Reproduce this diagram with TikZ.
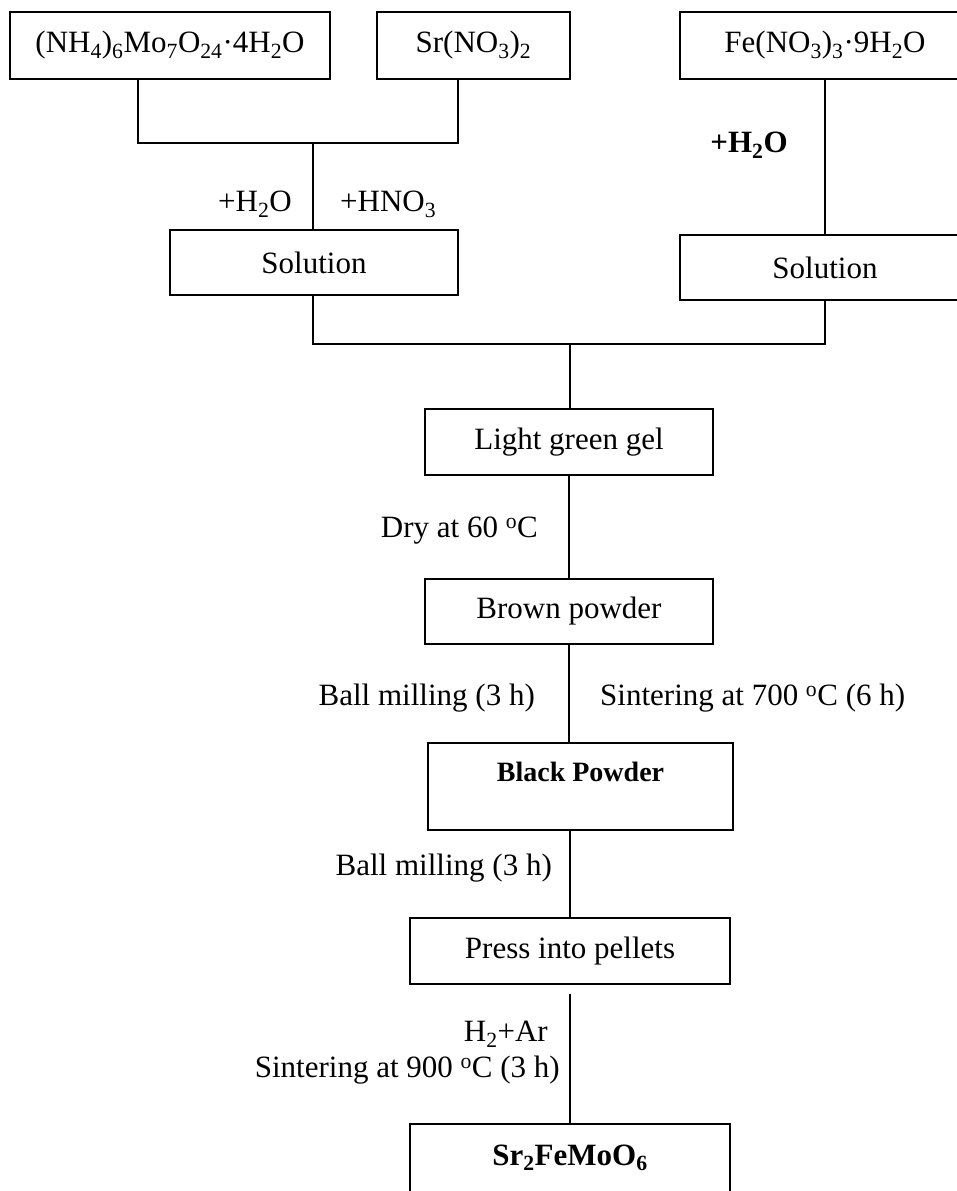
\documentclass[tikz,border=0pt]{standalone}
\usepackage{fontspec}
\setmainfont{Liberation Serif}
\newcommand{\chs}[1]{\textsubscript{#1}}
\newcommand{\degC}{\textsuperscript{o}C}
\begin{document}
\begin{tikzpicture}[x=1pt,y=-1pt,
  box/.style={draw, line width=1.3pt, inner sep=0pt, font=\fontsize{31}{36}\selectfont},
  lbl/.style={inner sep=0pt, font=\fontsize{31}{36}\selectfont},
  conn/.style={line width=1.3pt}]
\useasboundingbox (0,0) rectangle (957,1191);
\clip (0,0) rectangle (957,1191);

% top row
\node[box, minimum width=320pt, minimum height=67pt] (amm) at (170,45.5) {(NH\chs{4})\chs{6}Mo\chs{7}O\chs{24}·4H\chs{2}O};
\node[box, minimum width=193pt, minimum height=67pt] (sr) at (473.5,45.5) {Sr(NO\chs{3})\chs{2}};
\node[box, minimum width=290pt, minimum height=67pt] (fe) at (825,45.5) {Fe(NO\chs{3})\chs{3}·9H\chs{2}O};

% solutions
\node[box, minimum width=288pt, minimum height=65pt] (sol1) at (314,262.5) {Solution};
\node[box, minimum width=290pt, minimum height=65pt] (sol2) at (825,267.5) {Solution};

% main column
\node[box, minimum width=288pt, minimum height=66pt] (gel) at (569,442) {Light green gel};
\node[box, minimum width=288pt, minimum height=65pt] (brown) at (569,611.5) {Brown powder};
\node[box, minimum width=305pt, text height=38pt, text depth=49pt, anchor=base,
      font=\fontsize{28}{33}\selectfont\bfseries] (black) at (580.5,781) {Black Powder};
\node[box, minimum width=320pt, minimum height=66pt] (press) at (570,951) {Press into pellets};
\node[box, minimum width=320pt, text height=41pt, text depth=70pt, anchor=base,
      font=\fontsize{31}{36}\selectfont\bfseries] (final) at (570,1165) {Sr\chs{2}FeMoO\chs{6}};

% junction coordinates
\coordinate (a1) at (138,143);
\coordinate (s1) at (458,143);
\coordinate (j1) at (313,143);
\coordinate (b1) at (313,344);
\coordinate (b2) at (825,344);
\coordinate (j2) at (570,344);

% connectors
\draw[conn] (amm.south -| a1) -- (a1) -- (s1) -- (sr.south -| s1);
\draw[conn] (j1) -- (sol1.north -| j1);
\draw[conn] (fe.south) -- (sol2.north);
\draw[conn] (sol1.south -| b1) -- (b1) -- (b2) -- (sol2.south -| b2);
\draw[conn] (j2) -- (gel.north -| j2);
\draw[conn] (gel.south) -- (brown.south |- gel.south) -- (brown.north);
\draw[conn] (brown.south) -- (brown.south |- black.north);
\draw[conn] (black.south -| press.north) -- (press.north);
\draw[conn] ([yshift=-9pt]press.south) -- (final.north);

% labels
\node[lbl, anchor=east] (lh2o) at (292,204) {+H\chs{2}O};
\node[lbl, anchor=west] (lhno3) at (340,204) {+HNO\chs{3}};
\node[lbl, anchor=center, font=\fontsize{31}{36}\selectfont\bfseries] (lh2ob) at (749,145) {+H\chs{2}O};
\node[lbl, anchor=east] (ldry) at (538,531) {Dry at 60 \degC};
\node[lbl, anchor=east] (lball1) at (535,698) {Ball milling (3 h)};
\node[lbl, anchor=west] (lsint1) at (600,698) {Sintering at 700 \degC{} (6 h)};
\node[lbl, anchor=east] (lball2) at (552,868) {Ball milling (3 h)};
\node[lbl, anchor=east, align=right] (lsint2) at (560,1053) {H\chs{2}+Ar\kern12pt\\Sintering at 900 \degC{} (3 h)};
\end{tikzpicture}
\end{document}
